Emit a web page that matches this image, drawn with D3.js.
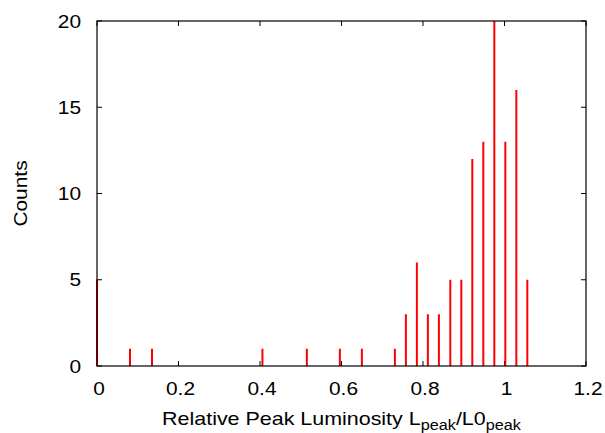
<!DOCTYPE html>
<html><head><meta charset="utf-8">
<script src="https://cdn.jsdelivr.net/npm/d3@7"></script>
<style>body{margin:0;background:#fff}svg{display:block}text{font-family:"Liberation Sans",Arial,Helvetica,sans-serif;fill:#000}</style>
</head><body><svg id="c" width="605" height="433"></svg>
<script>
const binCenters = [0, 0.081, 0.135, 0.406, 0.515, 0.596, 0.650, 0.731, 0.758, 0.785, 0.812, 0.839, 0.867, 0.894, 0.921, 0.948, 0.975, 1.002, 1.029, 1.056];
const counts =     [5, 1, 1, 1, 1, 1, 1, 1, 3, 6, 3, 3, 5, 5, 12, 13, 20, 13, 16, 5];
const xTicks = [0, 0.2, 0.4, 0.6, 0.8, 1, 1.2];
const yTicks = [0, 5, 10, 15, 20];

const svg = d3.select("#c");
const L = 97, R = 586, T = 21, B = 366;
const x = d3.scaleLinear().domain([0, 1.2]).range([L, R]);
const y = d3.scaleLinear().domain([0, 20]).range([B, T]);
const fs = 18.5, sx = 1.13, sxT = 1.16;

const tk = 5;
const g = svg.append("g");
xTicks.forEach(v => {
  g.append("line").attr("x1", x(v)).attr("x2", x(v)).attr("y1", B).attr("y2", B - tk).attr("stroke", "#000");
  g.append("line").attr("x1", x(v)).attr("x2", x(v)).attr("y1", T).attr("y2", T + tk).attr("stroke", "#000");
  g.append("text").attr("transform", `translate(${x(v) + 2},395) scale(${sx},1)`)
    .attr("text-anchor", "middle").attr("font-size", fs).text(d3.format("")(v));
});
yTicks.forEach(v => {
  g.append("line").attr("x1", L).attr("x2", L + tk).attr("y1", y(v)).attr("y2", y(v)).attr("stroke", "#000");
  g.append("line").attr("x1", R).attr("x2", R - tk).attr("y1", y(v)).attr("y2", y(v)).attr("stroke", "#000");
  g.append("text").attr("transform", `translate(81,${y(v) + 6.5}) scale(${sx},1)`)
    .attr("text-anchor", "end").attr("font-size", fs).text(v);
});

svg.append("g").selectAll("line").data(binCenters).join("line")
  .attr("x1", d => x(d)).attr("x2", d => x(d))
  .attr("y1", y(0)).attr("y2", (d, i) => y(counts[i]))
  .attr("stroke", "#ff0000").attr("stroke-width", 2);

svg.append("rect").attr("x", L).attr("y", T).attr("width", R - L).attr("height", B - T)
  .attr("fill", "none").attr("stroke", "#000").attr("stroke-width", 1.2);

svg.append("text").attr("transform", `translate(27,${(T + B) / 2}) rotate(-90) scale(${sx},1)`)
  .attr("text-anchor", "middle").attr("font-size", fs).text("Counts");
const xt = svg.append("text").attr("transform", `translate(${(L + R) / 2},425) scale(${sxT},1)`)
  .attr("text-anchor", "middle").attr("font-size", fs);
xt.append("tspan").text("Relative Peak Luminosity L");
xt.append("tspan").attr("font-size", 14).attr("dy", 5).text("peak");
xt.append("tspan").attr("dy", -5).text("/L0");
xt.append("tspan").attr("font-size", 14).attr("dy", 5).text("peak");
</script></body></html>
